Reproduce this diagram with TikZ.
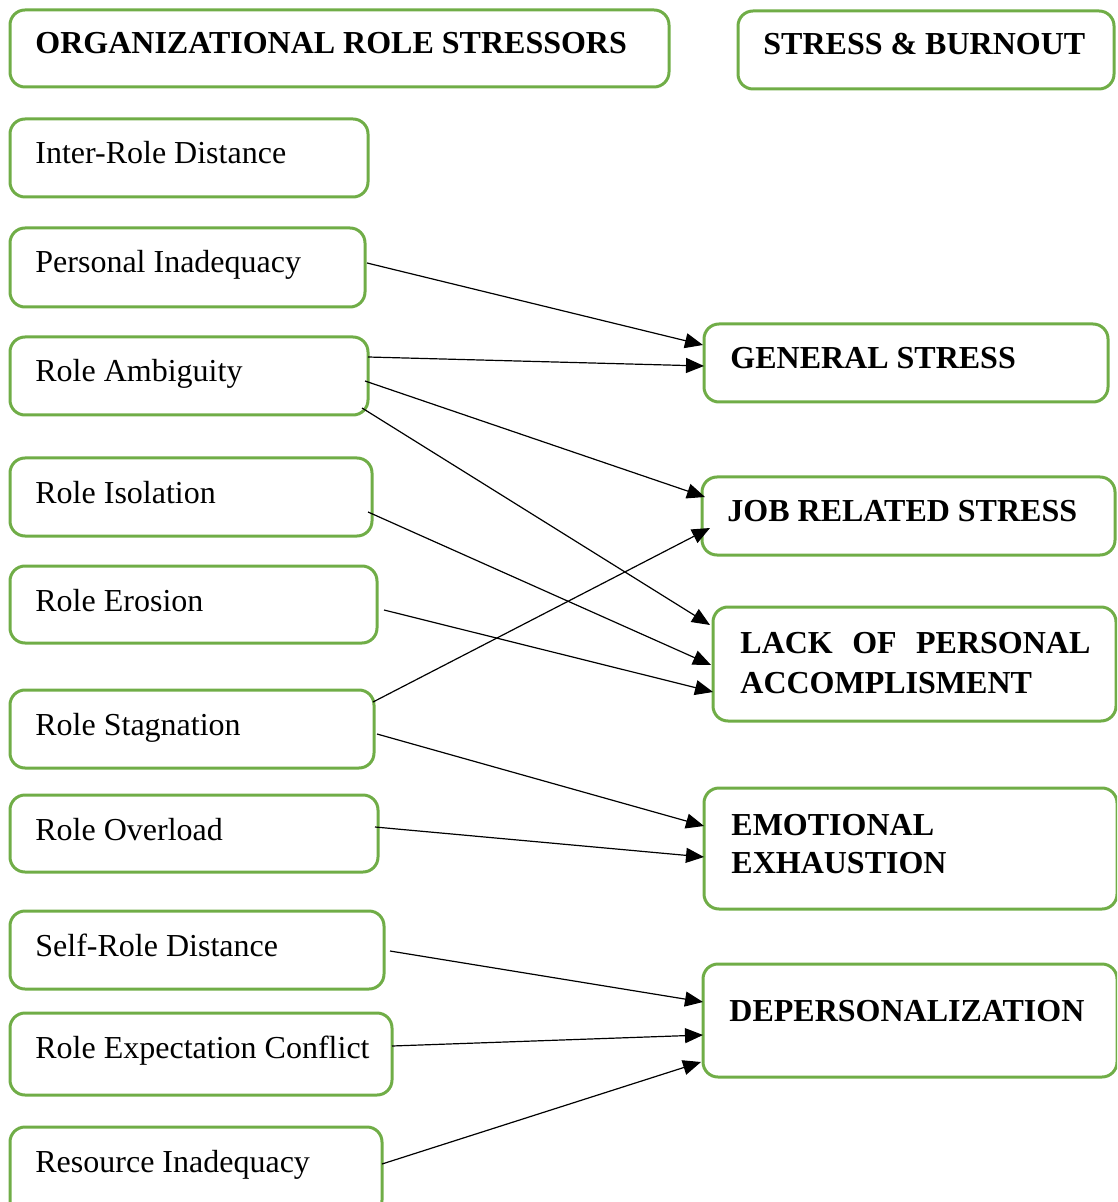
\documentclass[tikz,border=0pt]{standalone}
\usepackage{fontspec}
\setmainfont{Liberation Serif}
\usetikzlibrary{fit,calc,arrows.meta}
\definecolor{boxgreen}{HTML}{70AD47}
\tikzset{
  box/.style={draw=boxgreen, line width=1.5pt, rounded corners=7.5pt, inner sep=0pt, outer sep=0pt},
  txt/.style={inner sep=0pt, anchor=base west, font=\fontsize{16}{19.5}\selectfont},
  btxt/.style={txt, font=\fontsize{16}{19.5}\selectfont\bfseries},
  arr/.style={line width=0.6pt, -{Triangle[length=9pt,width=7.5pt]}}
}
\begin{document}
\begin{tikzpicture}[x=0.5pt,y=-0.5pt]
\useasboundingbox (0,0) rectangle (1117,1202);
\clip (0,0) rectangle (1117,1202);
% left column boxes
\node[box, fit={(10,10)(669,87)}] (org) {};
\node[box, fit={(738,11)(1114,89)}] (sb) {};
\node[box, fit={(10,119)(368,197)}] (ird) {};
\node[box, fit={(10,228)(365,307)}] (pi) {};
\node[box, fit={(10,337)(368,415)}] (ra) {};
\node[box, fit={(10,458)(372,536)}] (ri) {};
\node[box, fit={(10,566)(377,643)}] (re) {};
\node[box, fit={(10,690)(374,768)}] (rs) {};
\node[box, fit={(10,795)(378,872)}] (ro) {};
\node[box, fit={(10,911)(384,989)}] (srd) {};
\node[box, fit={(10,1013)(392,1095)}] (rec) {};
\node[box, fit={(10,1127)(382,1215)}] (rin) {};
% right column boxes
\node[box, fit={(704,324)(1108,402)}] (gs) {};
\node[box, fit={(702,477)(1115,555)}] (jrs) {};
\node[box, fit={(713,607)(1116,721)}] (lack) {};
\node[box, fit={(704,788)(1117,909)}] (emo) {};
\node[box, fit={(703,964)(1117,1077)}] (dep) {};
% texts
\node[btxt] (org-t) at ($(org.north west)+(25,44)$) {ORGANIZATIONAL ROLE STRESSORS};
\node[btxt] (sb-t) at ($(sb.north west)+(25,44)$) {STRESS \& BURNOUT};
\node[txt] (ird-t) at ($(ird.north west)+(25,45)$) {Inter-Role Distance};
\node[txt] (pi-t) at ($(pi.north west)+(25,45)$) {Personal Inadequacy};
\node[txt] (ra-t) at ($(ra.north west)+(25,45)$) {Role Ambiguity};
\node[txt] (ri-t) at ($(ri.north west)+(25,45)$) {Role Isolation};
\node[txt] (re-t) at ($(re.north west)+(25,45)$) {Role Erosion};
\node[txt] (rs-t) at ($(rs.north west)+(25,45)$) {Role Stagnation};
\node[txt] (ro-t) at ($(ro.north west)+(25,45)$) {Role Overload};
\node[txt] (srd-t) at ($(srd.north west)+(25,45)$) {Self-Role Distance};
\node[txt] (rec-t) at ($(rec.north west)+(25,45)$) {Role Expectation Conflict};
\node[txt] (rin-t) at ($(rin.north west)+(25,45)$) {Resource Inadequacy};
\node[btxt] (gs-t) at ($(gs.north west)+(26,45)$) {GENERAL STRESS};
\node[btxt] (jrs-t) at ($(jrs.north west)+(25,44)$) {JOB RELATED STRESS};
\node[btxt] (lack-t1) at ($(lack.north west)+(27,46)$) {\makebox[175pt][s]{LACK OF PERSONAL}};
\node[btxt] (lack-t2) at ($(lack.north west)+(27,86)$) {ACCOMPLISMENT};
\node[btxt] (emo-t1) at ($(emo.north west)+(27,47)$) {EMOTIONAL};
\node[btxt] (emo-t2) at ($(emo.north west)+(27,85)$) {EXHAUSTION};
\node[btxt] (dep-t) at ($(dep.north west)+(26,57)$) {DEPERSONALIZATION};
% connectors
\draw[arr] ($(pi.north east)+(2,35)$) -- ($(gs.north west)+(-1,21)$);
\draw[arr] ($(ra.north east)+(0,20)$) -- ($(gs.north west)+(0,42)$);
\draw[arr] ($(ra.north east)+(-3,44)$) -- ($(jrs.north west)+(3,20)$);
\draw[arr] ($(ra.north east)+(-6,71)$) -- ($(lack.north west)+(-3,18)$);
\draw[arr] ($(ri.north east)+(-4,54)$) -- ($(lack.north west)+(-2,58)$);
\draw[arr] ($(re.north east)+(7,44)$) -- ($(lack.north west)+(0,85)$);
\draw[arr] ($(rs.north east)+(-1,12)$) -- ($(jrs.north west)+(8,51)$);
\draw[arr] ($(rs.north east)+(3,44)$) -- ($(emo.north west)+(0,38)$);
\draw[arr] ($(ro.north east)+(-3,32)$) -- ($(emo.north west)+(0,69)$);
\draw[arr] ($(srd.north east)+(6,40)$) -- ($(dep.north west)+(0,38)$);
\draw[arr] ($(rec.north east)+(0,33)$) -- ($(dep.north west)+(0,71)$);
\draw[arr] ($(rin.north east)+(0,37)$) -- ($(dep.north west)+(-2,98)$);
\end{tikzpicture}
\end{document}
